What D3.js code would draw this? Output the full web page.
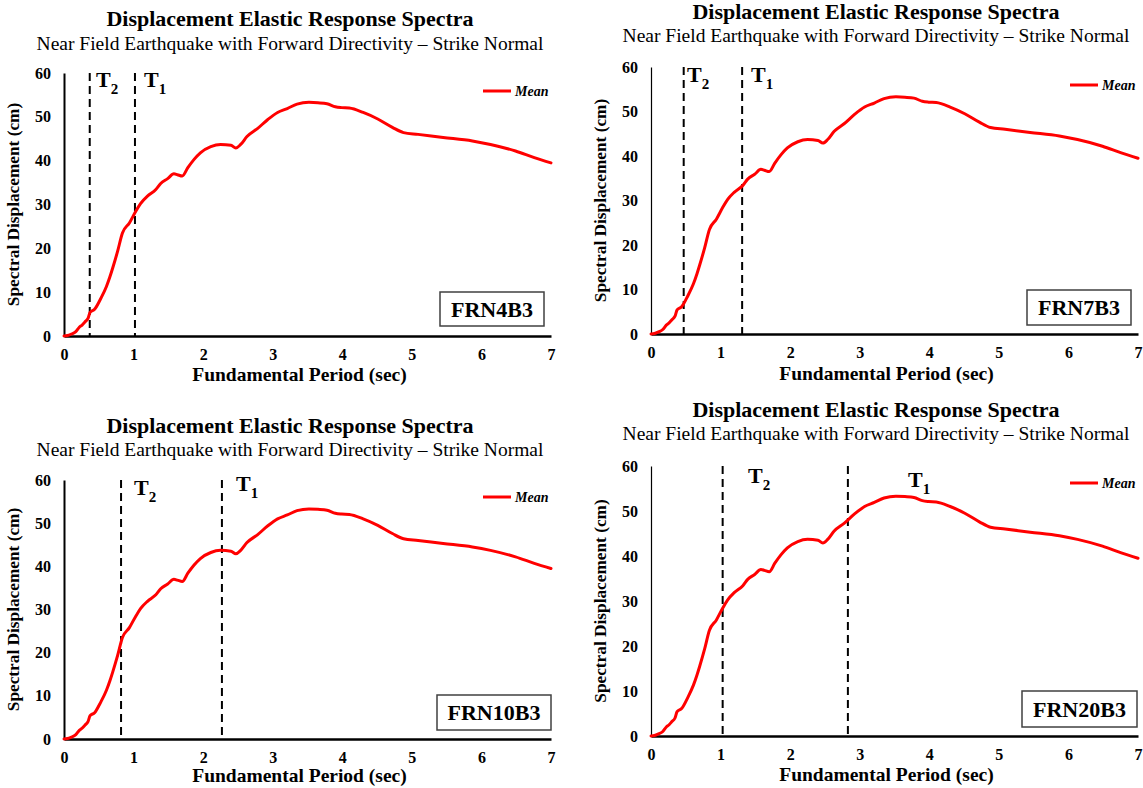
<!DOCTYPE html>
<html>
<head>
<meta charset="utf-8">
<script src="https://cdn.jsdelivr.net/npm/d3@7"></script>
<style>
  html, body { margin: 0; padding: 0; background: #fff; }
  svg { display: block; }
  svg text { font-family: "Liberation Serif", "Times New Roman", serif !important; fill: #000; }
</style>
</head>
<body>
<svg id="chart" width="1143" height="788"></svg>
<script>
// ---------------- DATA ----------------
const periods = [0, 0.05, 0.10, 0.17, 0.22, 0.26, 0.30, 0.345, 0.375, 0.44, 0.53, 0.61, 0.66, 0.70, 0.77, 0.84, 0.94, 1.03, 1.10, 1.20, 1.32, 1.39, 1.49, 1.58, 1.63, 1.70, 1.78, 1.87, 1.96, 2.11, 2.25, 2.40, 2.47, 2.54, 2.63, 2.78, 2.93, 3.07, 3.21, 3.35, 3.52, 3.65, 3.78, 3.90, 3.99, 4.10, 4.30, 4.51, 4.72, 4.88, 5.09, 5.45, 5.87, 6.13, 6.49, 6.76, 7.0];
const meanSD  = [0, 0.1, 0.4, 1.0, 2.0, 2.5, 3.2, 4.0, 5.4, 6.1, 8.6, 11.3, 13.5, 15.5, 19.3, 23.5, 25.8, 28.4, 30.2, 31.9, 33.4, 34.8, 35.9, 37.0, 36.8, 36.5, 38.4, 40.3, 41.8, 43.2, 43.7, 43.5, 42.9, 43.7, 45.5, 47.3, 49.4, 51.0, 51.9, 52.9, 53.3, 53.2, 53.0, 52.3, 52.1, 52.0, 51.0, 49.5, 47.6, 46.4, 46.0, 45.3, 44.5, 43.7, 42.2, 40.7, 39.5];
const xTicks = [0, 1, 2, 3, 4, 5, 6, 7];
const yTicks = [0, 10, 20, 30, 40, 50, 60];
const panelNames = ["FRN4B3", "FRN7B3", "FRN10B3", "FRN20B3"];
const t2Values = [0.37, 0.47, 0.82, 1.03];
const t1Values = [1.02, 1.31, 2.27, 2.83];
const titleText = "Displacement Elastic Response Spectra";
const subtitleText = "Near Field Earthquake with Forward Directivity \u2013 Strike Normal";
const xTitle = "Fundamental Period (sec)";
const yTitle = "Spectral Displacement (cm)";
const legendLabel = "Mean";

// ---------------- LAYOUT ----------------
const FONT = '"Liberation Serif", "Times New Roman", serif';
const layout = [
  { left: 64,  right: 551,  top: 73,  bottom: 336, tcx: 290, tY: 26,  sY: 50,  xtY: 381, yAxW: 2,   t2L: [96, 87],  t1L: [144, 87],  legY: 91,  box: [440, 292, 104, 34] },
  { left: 651, right: 1138, top: 67,  bottom: 334, tcx: 876, tY: 19,  sY: 42,  xtY: 380, yAxW: 1.2, t2L: [687, 82], t1L: [751, 82],  legY: 85,  box: [1027, 290, 104, 35] },
  { left: 64,  right: 551,  top: 480, bottom: 739, tcx: 290, tY: 433, sY: 456, xtY: 782, yAxW: 2,   t2L: [134, 495], t1L: [236, 491], legY: 497, box: [437, 695, 114, 35] },
  { left: 651, right: 1138, top: 466, bottom: 736, tcx: 876, tY: 417, sY: 440, xtY: 781, yAxW: 1.2, t2L: [748, 483], t1L: [908, 487], legY: 483, box: [1022, 691, 115, 36] }
];

const svg = d3.select("#chart");
const series = periods.map((p, i) => ({ t: p, v: meanSD[i] }));

layout.forEach((L, idx) => {
  const g = svg.append("g");
  const x = d3.scaleLinear().domain([0, 7]).range([L.left, L.right]);
  const y = d3.scaleLinear().domain([0, 60]).range([L.bottom, L.top]);

  // titles
  g.append("text").attr("x", L.tcx).attr("y", L.tY).attr("text-anchor", "middle")
    .attr("font-family", FONT).attr("font-weight", "bold").attr("font-size", 22).text(titleText);
  g.append("text").attr("x", L.tcx).attr("y", L.sY).attr("text-anchor", "middle")
    .attr("font-family", FONT).attr("font-size", 19.5).text(subtitleText);

  // axes
  const xAxis = d3.axisBottom(x).tickValues(xTicks).tickSize(0).tickPadding(0).tickFormat(d3.format("d"));
  const gx = g.append("g").attr("transform", `translate(0,${L.bottom})`).call(xAxis)
    .attr("font-family", FONT).attr("font-size", 16).attr("font-weight", "bold");
  gx.select(".domain").attr("stroke", "#000").attr("stroke-width", 2.5);
  gx.selectAll(".tick text").attr("dy", null).attr("y", 24);

  const yAxis = d3.axisLeft(y).tickValues(yTicks).tickSize(0).tickPadding(13).tickFormat(d3.format("d"));
  const gy = g.append("g").attr("transform", `translate(${L.left},0)`).call(yAxis)
    .attr("font-family", FONT).attr("font-size", 16).attr("font-weight", "bold");
  gy.select(".domain").attr("stroke", "#000").attr("stroke-width", L.yAxW);

  // axis titles
  g.append("text").attr("x", (L.left + L.right) / 2 - 8).attr("y", L.xtY).attr("text-anchor", "middle")
    .attr("font-family", FONT).attr("font-weight", "bold").attr("font-size", 19.5).text(xTitle);
  g.append("text").attr("transform", `translate(${L.left - 45},${(L.top + L.bottom) / 2}) rotate(-90)`)
    .attr("text-anchor", "middle").attr("font-family", FONT).attr("font-weight", "bold").attr("font-size", 17.3).text(yTitle);

  // period lines
  [t2Values[idx], t1Values[idx]].forEach(tv => {
    g.append("line").attr("x1", x(tv)).attr("x2", x(tv)).attr("y1", y(60)).attr("y2", y(0))
      .attr("stroke", "#000").attr("stroke-width", 2).attr("stroke-dasharray", "8,5");
  });
  const tLabel = (pos, sub) => {
    const t = g.append("text").attr("x", pos[0]).attr("y", pos[1])
      .attr("font-family", FONT).attr("font-weight", "bold").attr("font-size", 22);
    t.append("tspan").text("T");
    t.append("tspan").attr("dy", 7).attr("font-size", 15).text(sub);
  };
  tLabel(L.t2L, "2");
  tLabel(L.t1L, "1");

  // curve
  const line = d3.line().x(d => x(d.t)).y(d => y(d.v)).curve(d3.curveMonotoneX);
  g.append("path").datum(series).attr("d", line)
    .attr("fill", "none").attr("stroke", "#ff0000").attr("stroke-width", 3)
    .attr("stroke-linejoin", "round").attr("stroke-linecap", "round");

  // legend
  g.append("line").attr("x1", L.right - 68).attr("x2", L.right - 40).attr("y1", L.legY).attr("y2", L.legY)
    .attr("stroke", "#ff0000").attr("stroke-width", 3);
  g.append("text").attr("x", L.right - 36).attr("y", L.legY + 4.5)
    .attr("font-family", FONT).attr("font-weight", "bold").attr("font-style", "italic").attr("font-size", 14).text(legendLabel);

  // name box
  const [bx, by, bw, bh] = L.box;
  g.append("rect").attr("x", bx).attr("y", by).attr("width", bw).attr("height", bh)
    .attr("fill", "#fff").attr("stroke", "#404040").attr("stroke-width", 1.5);
  g.append("text").attr("x", bx + bw / 2).attr("y", by + bh / 2 + 7.5).attr("text-anchor", "middle")
    .attr("font-family", FONT).attr("font-weight", "bold").attr("font-size", 22).text(panelNames[idx]);
});
</script>
</body>
</html>
